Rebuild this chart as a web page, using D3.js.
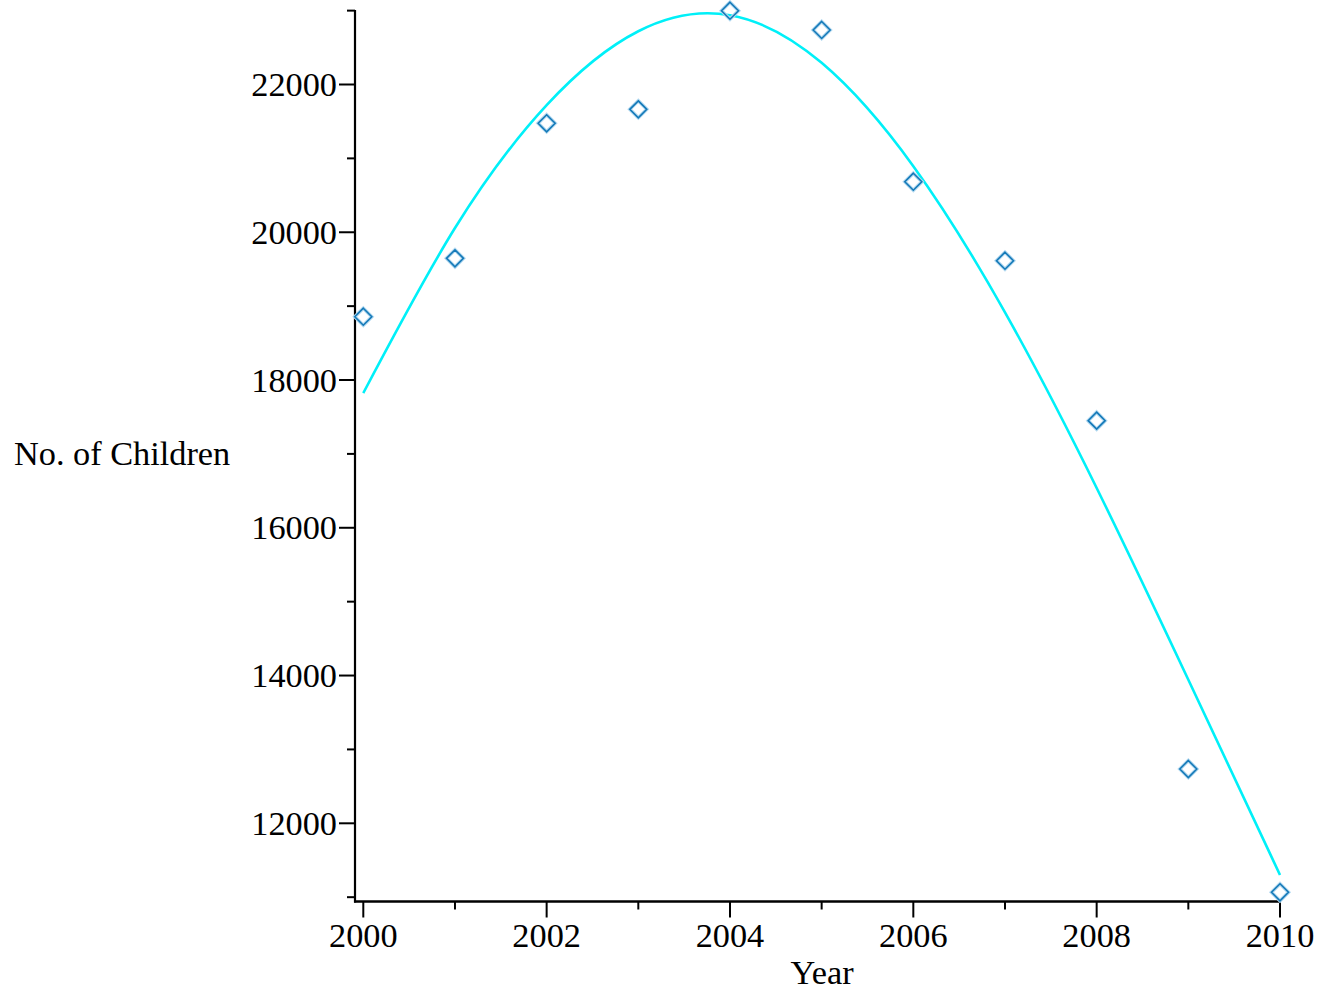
<!DOCTYPE html>
<html>
<head>
<meta charset="utf-8">
<script src="https://cdn.jsdelivr.net/npm/d3@7"></script>
<style>
  html, body { margin: 0; padding: 0; background: #fff; }
  svg { display: block; }
  text { font-family: "Liberation Serif", "Times New Roman", serif; fill: #000; }
</style>
</head>
<body>
<svg id="chart" width="1330" height="995"></svg>
<script>
// ---- data ----
const years = [2000, 2001, 2002, 2003, 2004, 2005, 2006, 2007, 2008, 2009, 2010];
const children = [18857, 19647, 21475, 21664, 22999, 22738, 20684, 19615, 17450, 12735, 11066];

// fitted curve (one reading per year)
const curveYears  = [2000, 2001, 2002, 2003, 2004, 2005, 2006, 2007, 2008, 2009, 2010];
const curveValues = [17824, 20057, 21721, 22721, 22938, 22293, 20894, 18916, 16539, 13943, 11301];

const xMajorTicks = [2000, 2002, 2004, 2006, 2008, 2010];
const xMinorTicks = [2001, 2003, 2005, 2007, 2009];
const yMajorTicks = [12000, 14000, 16000, 18000, 20000, 22000];
const yMinorTicks = [11000, 13000, 15000, 17000, 19000, 21000, 23000];

const xLabel = "Year";
const yLabel = "No. of Children";

// ---- layout ----
const svg = d3.select("#chart");
const x = d3.scaleLinear().domain([2000, 2010]).range([363.3, 1280]);
const y = d3.scaleLinear().domain([12000, 22000]).range([823.3, 84.5]);
const xLeft = 355, yBottom = 901.5, yTop = 10;
const fontSize = 34.3;

// axes lines
svg.append("line").attr("x1", xLeft).attr("x2", xLeft).attr("y1", yTop).attr("y2", yBottom + 1)
  .attr("stroke", "#000").attr("stroke-width", 2.2);
svg.append("line").attr("x1", xLeft - 1).attr("x2", x(2010) + 1).attr("y1", yBottom).attr("y2", yBottom)
  .attr("stroke", "#000").attr("stroke-width", 2.5);

// x ticks
svg.selectAll(".xmaj").data(xMajorTicks).enter().append("line")
  .attr("x1", d => x(d)).attr("x2", d => x(d)).attr("y1", yBottom).attr("y2", yBottom + 16)
  .attr("stroke", "#000").attr("stroke-width", 2);
svg.selectAll(".xmin").data(xMinorTicks).enter().append("line")
  .attr("x1", d => x(d)).attr("x2", d => x(d)).attr("y1", yBottom).attr("y2", yBottom + 8)
  .attr("stroke", "#000").attr("stroke-width", 2);
svg.selectAll(".xlab").data(xMajorTicks).enter().append("text")
  .attr("x", d => x(d)).attr("y", 947).attr("text-anchor", "middle")
  .attr("font-size", fontSize).text(d => d);

// y ticks
svg.selectAll(".ymaj").data(yMajorTicks).enter().append("line")
  .attr("x1", xLeft - 16).attr("x2", xLeft).attr("y1", d => y(d)).attr("y2", d => y(d))
  .attr("stroke", "#000").attr("stroke-width", 2);
svg.selectAll(".ymin").data(yMinorTicks).enter().append("line")
  .attr("x1", xLeft - 8).attr("x2", xLeft).attr("y1", d => y(d)).attr("y2", d => y(d))
  .attr("stroke", "#000").attr("stroke-width", 2);
svg.selectAll(".ylab").data(yMajorTicks).enter().append("text")
  .attr("x", 337).attr("y", d => y(d) + 11.7).attr("text-anchor", "end")
  .attr("font-size", fontSize).text(d => d);

// axis titles
svg.append("text").attr("x", 822).attr("y", 984).attr("text-anchor", "middle")
  .attr("font-size", fontSize).text(xLabel);
svg.append("text").attr("x", 14).attr("y", 465).attr("text-anchor", "start")
  .attr("font-size", fontSize).text(yLabel);

// fitted curve
const curvePts = curveYears.map((d, i) => [d, curveValues[i]]);
svg.append("path").datum(curvePts)
  .attr("fill", "none").attr("stroke", "#00f0f8").attr("stroke-width", 2.6)
  .attr("d", d3.line().x(d => x(d[0])).y(d => y(d[1])).curve(d3.curveNatural));

// points (diamonds)
const s = 8.5;
const pts = years.map((d, i) => [d, children[i]]);
const diamond = d => {
  const cx = x(d[0]), cy = y(d[1]);
  return `M${cx},${cy - s}L${cx + s},${cy}L${cx},${cy + s}L${cx - s},${cy}Z`;
};
svg.selectAll(".halo").data(pts).enter().append("path")
  .attr("d", diamond).attr("fill", "none").attr("stroke", "#b3d9f0").attr("stroke-width", 3.6);
svg.selectAll(".pt").data(pts).enter().append("path")
  .attr("d", diamond).attr("fill", "none").attr("stroke", "#1479b8").attr("stroke-width", 1.6);
</script>
</body>
</html>
